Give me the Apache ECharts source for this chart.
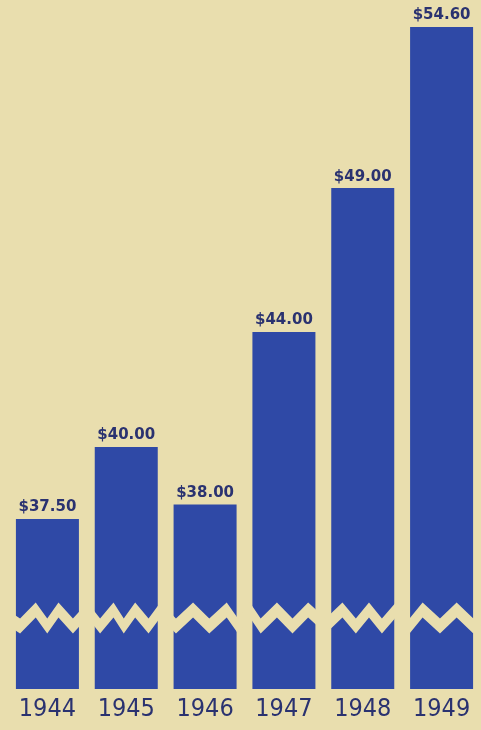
<!DOCTYPE html>
<html>
<head>
<meta charset="utf-8">
<script src="https://cdn.jsdelivr.net/npm/echarts@6/dist/echarts.min.js"></script>
<style>
html,body{margin:0;padding:0;background:#e9deae;}
#c{width:481px;height:730px;}
</style>
</head>
<body>
<div id="c"></div>
<script>
const years = ['1944', '1945', '1946', '1947', '1948', '1949'];
const prices = [37.50, 40.00, 38.00, 44.00, 49.00, 54.60];
const priceLabels = ['$37.50', '$40.00', '$38.00', '$44.00', '$49.00', '$54.60'];

const chart = echarts.init(document.getElementById('c'));
chart.setOption({
  backgroundColor: '#e9deae',
  animation: false,
  grid: { left: 8, right: 0, top: 15.5, bottom: 41 },
  xAxis: {
    type: 'category',
    data: years,
    axisLine: { show: false },
    axisTick: { show: false },
    axisLabel: {
      color: '#2a3270',
      fontSize: 25,
      fontFamily: 'Liberation Sans Narrow, DejaVu Sans Condensed, sans-serif',
      margin: 8
    }
  },
  yAxis: {
    type: 'value',
    min: 0,
    max: 55,
    show: true,
    axisLine: { show: false },
    axisTick: { show: false },
    axisLabel: { show: false },
    splitLine: { show: false },
    breaks: [{ start: 2.2, end: 34.34, gap: 0.55 }],
    breakArea: {
      show: true,
      itemStyle: { color: '#e9deae', borderColor: '#e9deae', borderWidth: 0, opacity: 1 },
      zigzagAmplitude: 8,
      zigzagMinSpan: 10,
      zigzagMaxSpan: 18,
      zigzagZ: 100,
      expandOnClick: false
    }
  },
  series: [{
    type: 'bar',
    data: prices,
    barWidth: 63,
    itemStyle: { color: '#2f49a6' },
    label: {
      show: true,
      position: 'top',
      distance: 4,
      color: '#2a3270',
      fontSize: 15,
      fontWeight: 'bold',
      fontFamily: 'DejaVu Sans, sans-serif',
      formatter: function (p) { return priceLabels[p.dataIndex]; }
    }
  }]
});
</script>
</body>
</html>
